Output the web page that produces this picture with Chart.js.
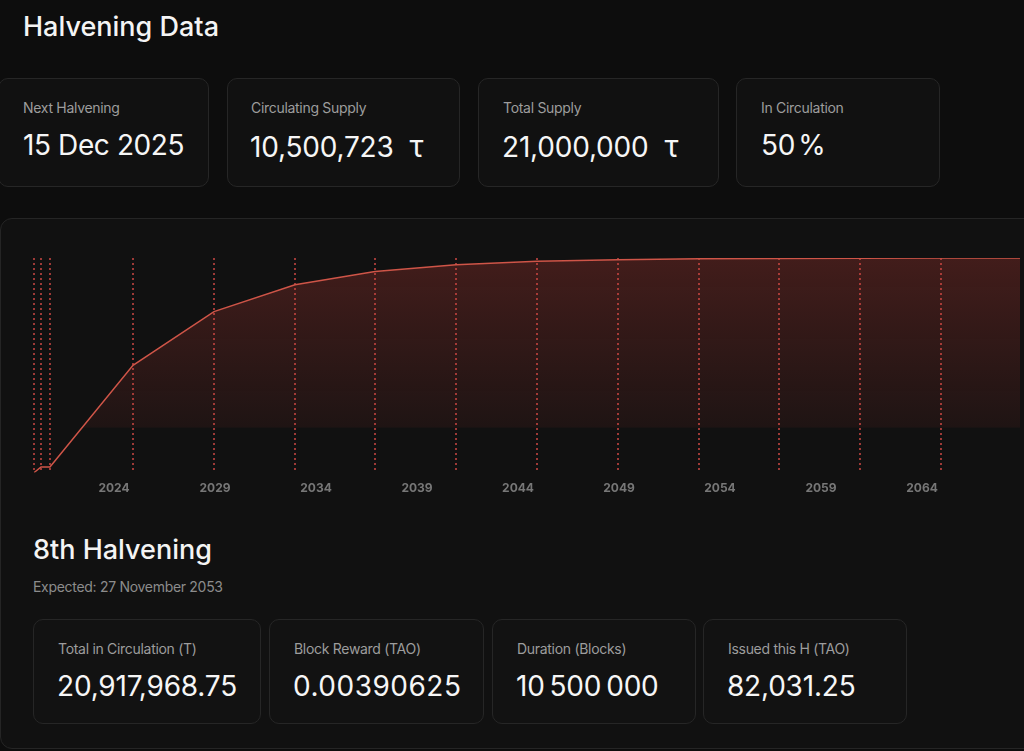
<!DOCTYPE html>
<html>
<head>
<meta charset="utf-8">
<script src="https://cdn.jsdelivr.net/npm/chart.js@4"></script>
<style>
  html, body { margin: 0; padding: 0; }
  body {
    width: 1024px; height: 751px; overflow: hidden; position: relative;
    background: #0d0d0d; color: #f4f4f4;
    font-family: Inter, "Noto Sans", sans-serif;
  }
  .abs { position: absolute; white-space: nowrap; }
  .title { font-size: 27px; font-weight: 500; letter-spacing: 0; }
  .card {
    position: absolute; box-sizing: border-box;
    background: #111111; border: 1px solid #262626; border-radius: 10px;
  }
  .card .lbl { position: absolute; left: 24px; top: 20px; font-size: 14px; color: #9d9d9d; letter-spacing: -0.3px; white-space: nowrap; }
  .card .val { position: absolute; left: 24px; top: 49px; font-size: 28px; color: #f6f6f6; letter-spacing: -0.2px; white-space: nowrap; }
  .tau { margin-left: 16px; font-size: 30px; }
  #panel {
    position: absolute; left: 0; top: 218px; width: 1060px; height: 531px;
    box-sizing: border-box; background: #111111; border: 1px solid #252525; border-radius: 12px;
  }
  #chartBox { position: absolute; left: 0; top: 240px; width: 1024px; height: 265px; }
  .sub { font-size: 14px; color: #8c8c8c; letter-spacing: -0.3px; }
</style>
</head>
<body>
<div class="abs title" style="left:23px; top:10px;">Halvening Data</div>

<div class="card" style="left:-2px; top:78px; width:211px; height:109px;">
  <div class="lbl">Next Halvening</div>
  <div class="val" style="left:24px; letter-spacing:-0.4px;">15 Dec 2025</div>
</div>
<div class="card" style="left:227px; top:78px; width:233px; height:109px;">
  <div class="lbl" style="left:23px;">Circulating Supply</div>
  <div class="val" style="left:22px;">10,500,723<span class="tau">τ</span></div>
</div>
<div class="card" style="left:478px; top:78px; width:241px; height:109px;">
  <div class="lbl">Total Supply</div>
  <div class="val" style="left:23px;">21,000,000<span class="tau">τ</span></div>
</div>
<div class="card" style="left:736px; top:78px; width:204px; height:109px;">
  <div class="lbl">In Circulation</div>
  <div class="val">50<span style="margin-left:3px;">%</span></div>
</div>

<div id="panel"></div>
<div id="chartBox"><canvas id="supplyChart"></canvas></div>

<div class="abs title" style="left:33px; top:533px;">8th Halvening</div>
<div class="abs sub" style="left:33px; top:578px;">Expected: 27 November 2053</div>

<div class="card" style="left:33px; top:619px; width:228px; height:105px; background:#121212;">
  <div class="lbl">Total in Circulation (T)</div>
  <div class="val" style="left:23px;">20,917,968.75</div>
</div>
<div class="card" style="left:269px; top:619px; width:215px; height:105px; background:#121212;">
  <div class="lbl">Block Reward (TAO)</div>
  <div class="val" style="left:23px; letter-spacing:0.5px;">0.00390625</div>
</div>
<div class="card" style="left:492px; top:619px; width:204px; height:105px; background:#121212;">
  <div class="lbl">Duration (Blocks)</div>
  <div class="val" style="left:23px; letter-spacing:-0.2px;">10&#8201;500&#8201;000</div>
</div>
<div class="card" style="left:703px; top:619px; width:204px; height:105px; background:#121212;">
  <div class="lbl">Issued this H (TAO)</div>
  <div class="val" style="left:23px;">82,031.25</div>
</div>

<script>
// years, supply in TAO
const years = [2020.04, 2020.39, 2020.83, 2024.94, 2028.95, 2032.96, 2036.92, 2040.93, 2044.94, 2048.95, 2052.96, 2056.92, 2060.93, 2064.94, 2068.85];
const supply = [0, 550000, 550000, 10500000, 15750000, 18375000, 19687500, 20343750, 20671875, 20835938, 20917969, 20958984, 20979492, 20989746, 20995000];
// dashed markers sit on every halvening
const halvingYears = [2020.04, 2020.39, 2020.83, 2024.94, 2028.95, 2032.96, 2036.92, 2040.93, 2044.94, 2048.95, 2052.96, 2056.92, 2060.93, 2064.94];
const tickYears = [2024, 2029, 2034, 2039, 2044, 2049, 2054, 2059, 2064];

const halvingLines = {
  id: "halvingLines",
  beforeDatasetsDraw(chart) {
    const { ctx, chartArea, scales } = chart;
    ctx.save();
    ctx.strokeStyle = "rgba(205, 72, 68, 0.75)";
    ctx.lineWidth = 2;
    ctx.setLineDash([2, 3]);
    halvingYears.forEach(function (yr) {
      const x = Math.round(scales.x.getPixelForValue(yr));
      ctx.beginPath();
      ctx.moveTo(x, chartArea.top);
      ctx.lineTo(x, chartArea.bottom);
      ctx.stroke();
    });
    ctx.restore();
  },
};

function fillGradient(context) {
  const area = context.chart.chartArea;
  if (!area) return "rgba(200,60,55,0.2)";
  const g = context.chart.ctx.createLinearGradient(0, area.top, 0, area.top + 170);
  g.addColorStop(0, "rgba(200, 62, 55, 0.27)");
  g.addColorStop(0.995, "rgba(200, 62, 55, 0.08)");
  g.addColorStop(1, "rgba(200, 62, 55, 0)");
  return g;
}

const ctx = document.getElementById("supplyChart").getContext("2d");
new Chart(ctx, {
  type: "line",
  data: {
    datasets: [
      {
        data: years.map((yr, i) => ({ x: yr, y: supply[i] })),
        borderColor: "#cf5548",
        borderWidth: 1.5,
        backgroundColor: fillGradient,
        fill: "origin",
        pointRadius: 0,
        tension: 0,
      },
    ],
  },
  options: {
    responsive: true,
    maintainAspectRatio: false,
    animation: false,
    layout: { padding: { left: 34, right: 4, top: 18, bottom: 0 } },
    plugins: { legend: { display: false }, tooltip: { enabled: false } },
    scales: {
      x: {
        type: "linear",
        min: 2020.04,
        max: 2068.85,
        afterBuildTicks: function (axis) {
          axis.ticks = tickYears.map((v) => ({ value: v }));
        },
        grid: { display: false, drawTicks: false },
        border: { display: false },
        ticks: {
          padding: 9,
          color: "#777777",
          font: { family: "Inter", size: 12, weight: "bold" },
          callback: (v) => String(v),
          maxRotation: 0,
          autoSkip: false,
        },
      },
      y: {
        display: false,
        min: 0,
        max: 21000000,
      },
    },
  },
  plugins: [halvingLines],
});
</script>
</body>
</html>
